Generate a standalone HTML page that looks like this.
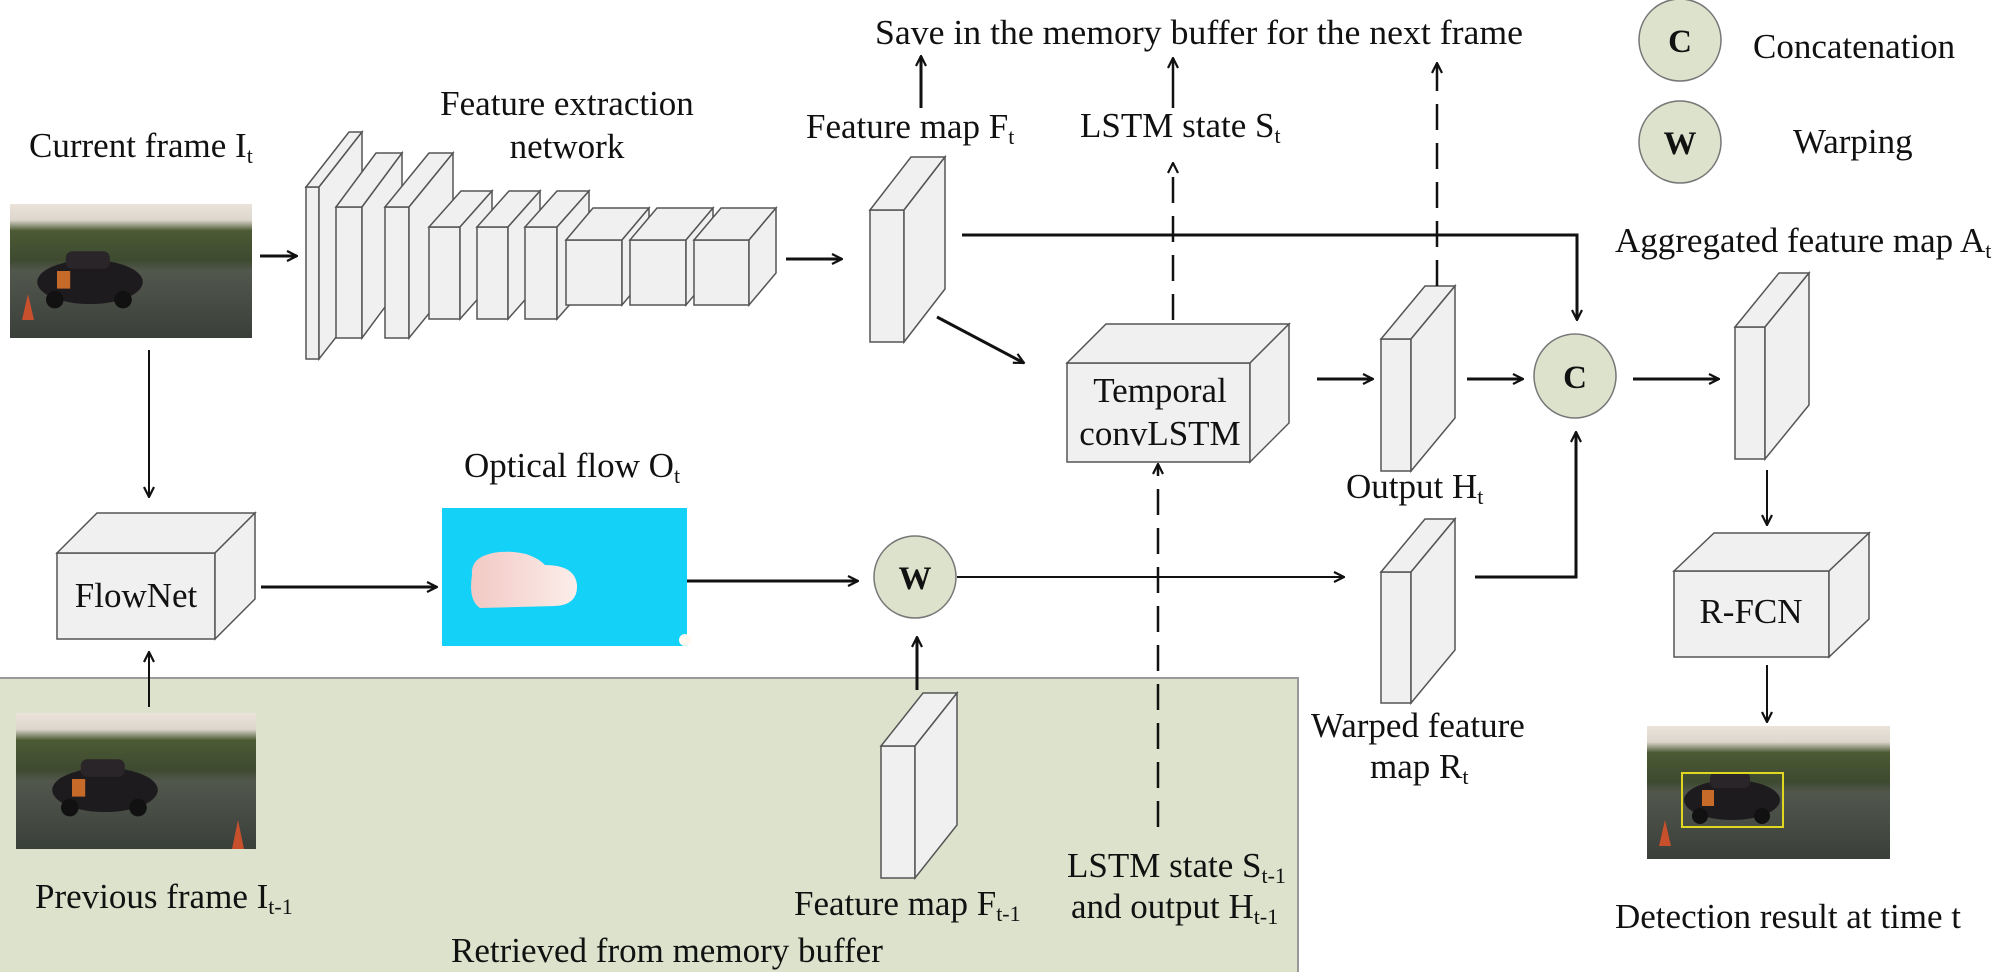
<!DOCTYPE html>
<html><head><meta charset="utf-8"><style>
html,body{margin:0;padding:0;background:#fff}
svg{display:block}
text{font-family:"Liberation Serif",serif;fill:#111}
</style></head><body>
<svg width="2000" height="972" viewBox="0 0 2000 972" xmlns="http://www.w3.org/2000/svg">
<defs>
<marker id="ah" viewBox="0 0 12 12" refX="11" refY="6" markerWidth="12" markerHeight="12" markerUnits="userSpaceOnUse" orient="auto">
<path d="M1,1 L11,6 L1,11" fill="none" stroke="#111" stroke-width="2.2"/>
</marker>
<linearGradient id="ph" x1="0" y1="0" x2="0" y2="1">
<stop offset="0" stop-color="#ece3da"/><stop offset="0.12" stop-color="#dcd6cc"/>
<stop offset="0.2" stop-color="#4c5a34"/><stop offset="0.42" stop-color="#3d4a30"/>
<stop offset="0.5" stop-color="#52574d"/><stop offset="1" stop-color="#3a3f3a"/>
</linearGradient>
<linearGradient id="blob" x1="0" y1="0" x2="1" y2="0">
<stop offset="0" stop-color="#f2c8c4"/><stop offset="1" stop-color="#fbeeea"/>
</linearGradient>
<g id="car">
<ellipse cx="0" cy="0" rx="48" ry="20" fill="#1e1b1e"/>
<rect x="-22" y="-28" width="40" height="16" rx="6" fill="#2a2528"/>
<rect x="-30" y="-10" width="12" height="16" fill="#c66a2a"/>
<circle cx="-32" cy="16" r="8" fill="#111"/><circle cx="30" cy="16" r="8" fill="#111"/>
</g>
</defs>

<rect x="-2" y="678" width="1300" height="300" fill="#dde2cc" stroke="#999" stroke-width="2"/>

<g stroke="#555" stroke-width="1.5" fill="#f0f0f0">
<rect x="306" y="187" width="13" height="172"/><polygon points="306,187 349,132 362,132 319,187"/><polygon points="319,187 362,132 362,304 319,359"/>
<rect x="336" y="207" width="26" height="131"/><polygon points="336,207 376,153 402,153 362,207"/><polygon points="362,207 402,153 402,284 362,338"/>
<rect x="385" y="207" width="24" height="131"/><polygon points="385,207 429,153 453,153 409,207"/><polygon points="409,207 453,153 453,284 409,338"/>
<rect x="429" y="227" width="31" height="92"/><polygon points="429,227 461,191 492,191 460,227"/><polygon points="460,227 492,191 492,283 460,319"/>
<rect x="477" y="227" width="31" height="92"/><polygon points="477,227 509,191 540,191 508,227"/><polygon points="508,227 540,191 540,283 508,319"/>
<rect x="525" y="227" width="32" height="92"/><polygon points="525,227 557,191 589,191 557,227"/><polygon points="557,227 589,191 589,283 557,319"/>
<rect x="566" y="240" width="56" height="65"/><polygon points="566,240 593,208 649,208 622,240"/><polygon points="622,240 649,208 649,273 622,305"/>
<rect x="630" y="240" width="56" height="65"/><polygon points="630,240 657,208 713,208 686,240"/><polygon points="686,240 713,208 713,273 686,305"/>
<rect x="694" y="240" width="55" height="65"/><polygon points="694,240 721,208 776,208 749,240"/><polygon points="749,240 776,208 776,273 749,305"/>
<rect x="870" y="210" width="34" height="132"/><polygon points="870,210 911,157 945,157 904,210"/><polygon points="904,210 945,157 945,289 904,342"/>
<rect x="881" y="746" width="34" height="132"/><polygon points="881,746 923,693 957,693 915,746"/><polygon points="915,746 957,693 957,825 915,878"/>
<rect x="1381" y="339" width="30" height="132"/><polygon points="1381,339 1425,286 1455,286 1411,339"/><polygon points="1411,339 1455,286 1455,418 1411,471"/>
<rect x="1381" y="572" width="30" height="131"/><polygon points="1381,572 1425,519 1455,519 1411,572"/><polygon points="1411,572 1455,519 1455,650 1411,703"/>
<rect x="1735" y="327" width="30" height="132"/><polygon points="1735,327 1779,273 1809,273 1765,327"/><polygon points="1765,327 1809,273 1809,405 1765,459"/>
<rect x="57" y="553" width="158" height="86"/><polygon points="57,553 97,513 255,513 215,553"/><polygon points="215,553 255,513 255,599 215,639"/>
<rect x="1067" y="363" width="183" height="99"/><polygon points="1067,363 1106,324 1289,324 1250,363"/><polygon points="1250,363 1289,324 1289,423 1250,462"/>
<rect x="1674" y="571" width="155" height="86"/><polygon points="1674,571 1714,533 1869,533 1829,571"/><polygon points="1829,571 1869,533 1869,619 1829,657"/>
</g>

<rect x="10" y="204" width="242" height="134" fill="url(#ph)"/>
<use href="#car" transform="translate(90,282) scale(1.1)"/>
<polygon points="22,320 28,294 34,320" fill="#c9502c"/>
<rect x="16" y="713" width="240" height="136" fill="url(#ph)"/>
<use href="#car" transform="translate(105,790) scale(1.1)"/>
<polygon points="232,849 238,820 244,849" fill="#c9502c"/>
<rect x="1647" y="726" width="243" height="133" fill="url(#ph)"/>
<use href="#car" transform="translate(1732,800) scale(1.0)"/>
<rect x="1682" y="773" width="101" height="54" fill="none" stroke="#e0d820" stroke-width="2"/>
<polygon points="1659,846 1665,820 1671,846" fill="#c9502c"/>

<rect x="442" y="508" width="245" height="138" fill="#14d2f7"/>
<path d="M472,575 Q470,555 500,552 Q530,550 545,565 Q575,565 577,585 Q578,605 555,606 L480,608 Q468,600 472,575 Z" fill="url(#blob)"/>
<circle cx="685" cy="640" r="6" fill="#fff8f0"/>

<g fill="#dde2cc" stroke="#777" stroke-width="1.5">
<ellipse cx="1575" cy="376" rx="41" ry="42"/>
<ellipse cx="915" cy="577" rx="41" ry="41"/>
<ellipse cx="1680" cy="40" rx="41" ry="41"/>
<ellipse cx="1680" cy="142" rx="41" ry="41"/>
</g>
<g font-weight="bold" font-size="33" text-anchor="middle">
<text x="1575" y="388">C</text><text x="915" y="589">W</text>
<text x="1680" y="52">C</text><text x="1680" y="154">W</text>
</g>

<g stroke="#111" fill="none" stroke-width="3" marker-end="url(#ah)">
<line x1="260" y1="256" x2="297" y2="256"/>
<line x1="786" y1="259" x2="842" y2="259"/>
<line x1="921" y1="108" x2="921" y2="56"/>
<line x1="149" y1="350" x2="149" y2="497" stroke-width="2"/>
<line x1="149" y1="707" x2="149" y2="652" stroke-width="2"/>
<line x1="261" y1="587" x2="437" y2="587"/>
<line x1="687" y1="581" x2="858" y2="581"/>
<line x1="917" y1="690" x2="917" y2="637"/>
<line x1="957" y1="577" x2="1344" y2="577" stroke-width="2"/>
<line x1="937" y1="317" x2="1024" y2="363"/>
<polyline points="962,235 1577,235 1577,320"/>
<line x1="1317" y1="379" x2="1373" y2="379"/>
<line x1="1467" y1="379" x2="1523" y2="379"/>
<line x1="1633" y1="379" x2="1719" y2="379"/>
<polyline points="1475,577 1576,577 1576,432"/>
<line x1="1767" y1="470" x2="1767" y2="525" stroke-width="2"/>
<line x1="1767" y1="665" x2="1767" y2="722" stroke-width="2"/>
</g>
<g stroke="#111" fill="none" stroke-width="2.5" stroke-dasharray="26,13" marker-end="url(#ah)">
<line x1="1173" y1="320" x2="1173" y2="163"/>
<line x1="1173" y1="108" x2="1173" y2="58" stroke-dasharray="none"/>
<line x1="1437" y1="286" x2="1437" y2="63"/>
<line x1="1158" y1="827" x2="1158" y2="464"/>
</g>

<g font-size="35">
<text x="875" y="44" textLength="648" lengthAdjust="spacingAndGlyphs">Save in the memory buffer for the next frame</text>
<text x="1753" y="58">Concatenation</text>
<text x="1793" y="153">Warping</text>
<text x="29" y="157">Current frame I<tspan font-size="22" dy="6">t</tspan></text>
<text x="567" y="115" text-anchor="middle">Feature extraction</text>
<text x="567" y="158" text-anchor="middle">network</text>
<text x="806" y="138">Feature map F<tspan font-size="22" dy="6">t</tspan></text>
<text x="1080" y="137">LSTM state S<tspan font-size="22" dy="6">t</tspan></text>
<text x="1615" y="252">Aggregated feature map A<tspan font-size="22" dy="6">t</tspan></text>
<text x="1160" y="402" text-anchor="middle">Temporal</text>
<text x="1160" y="445" text-anchor="middle">convLSTM</text>
<text x="1346" y="498">Output H<tspan font-size="22" dy="6">t</tspan></text>
<text x="464" y="477">Optical flow O<tspan font-size="22" dy="6">t</tspan></text>
<text x="136" y="607" text-anchor="middle">FlowNet</text>
<text x="1751" y="623" text-anchor="middle">R-FCN</text>
<text x="1311" y="737">Warped feature</text>
<text x="1370" y="778">map R<tspan font-size="22" dy="6">t</tspan></text>
<text x="35" y="908">Previous frame I<tspan font-size="22" dy="6">t-1</tspan></text>
<text x="794" y="915">Feature map F<tspan font-size="22" dy="6">t-1</tspan></text>
<text x="1067" y="877">LSTM state S<tspan font-size="22" dy="6">t-1</tspan></text>
<text x="1071" y="918">and output H<tspan font-size="22" dy="6">t-1</tspan></text>
<text x="451" y="962">Retrieved from memory buffer</text>
<text x="1615" y="928">Detection result at time t</text>
</g>
</svg>
</body></html>
